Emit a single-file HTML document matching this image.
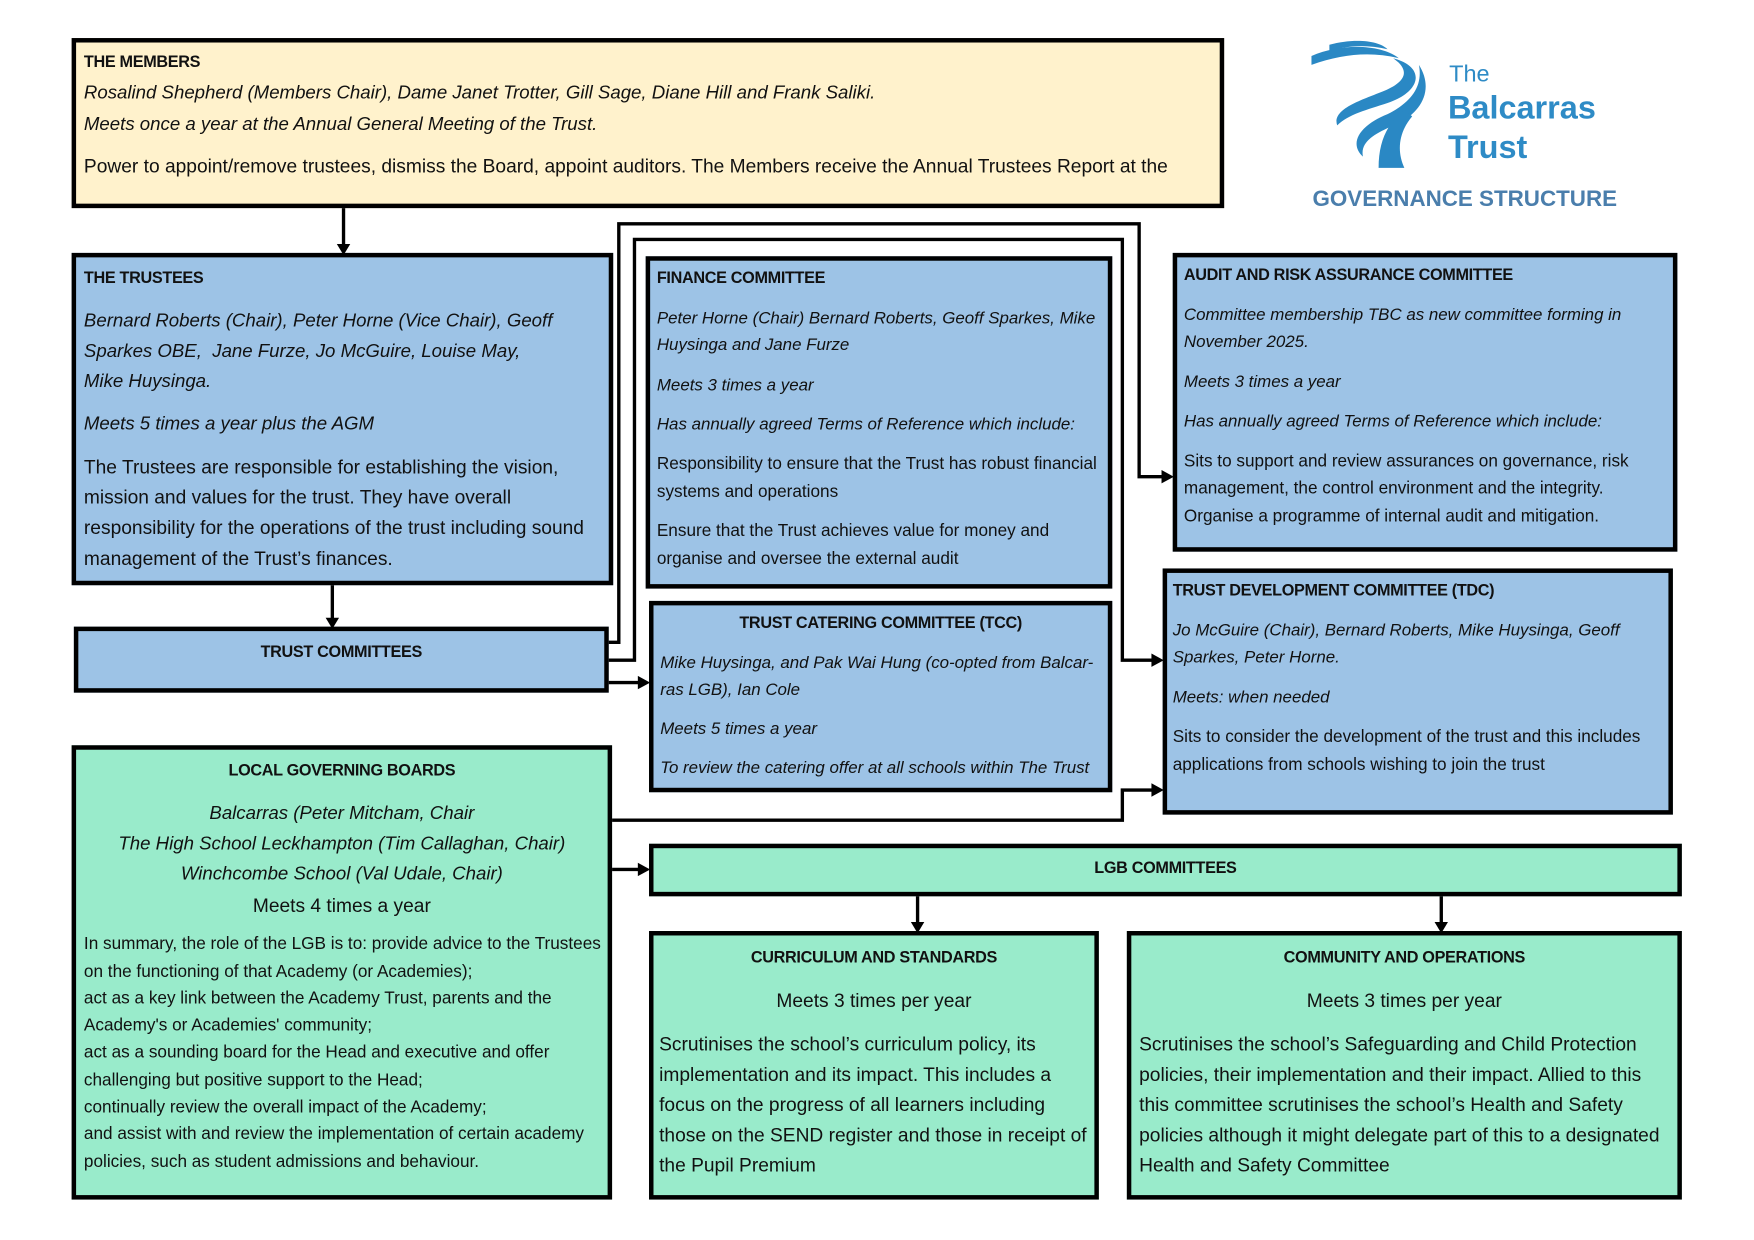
<!DOCTYPE html>
<html><head><meta charset="utf-8"><style>
html,body{margin:0;padding:0;background:#fff;}
body{width:1754px;height:1240px;overflow:hidden;position:relative;}
#w{position:absolute;left:0;top:0;width:1568px;height:1108px;transform:scale(1.1190);transform-origin:0 0;font-family:"Liberation Sans",sans-serif;color:#111;}
.b{position:absolute;box-sizing:border-box;border:4px solid #000;}
.y{background:#fff2cc}.bl{background:#9dc3e6}.g{background:#99ebcb}
.t{position:absolute;white-space:nowrap;line-height:20px;height:20px;margin-top:1px}
.h{font-weight:bold;font-size:14.5px;letter-spacing:-0.3px}
.s{font-size:15.35px;letter-spacing:0}
.s.i{font-size:15.1px}
.m{font-size:17.15px;letter-spacing:0}
.m.i{font-size:16.65px}
.i{font-style:italic}
.c{text-align:center}
svg{position:absolute;left:0;top:0}
</style></head><body><div id="w">

<div class="b y" style="left:64px;top:34px;width:1030px;height:152px"></div>
<div class="b bl" style="left:64px;top:226px;width:484px;height:297px"></div>
<div class="b bl" style="left:66px;top:560px;width:478px;height:59px"></div>
<div class="b bl" style="left:577px;top:229px;width:417px;height:297px"></div>
<div class="b bl" style="left:580px;top:537px;width:414px;height:171px"></div>
<div class="b bl" style="left:1048px;top:226px;width:451px;height:267px"></div>
<div class="b bl" style="left:1039px;top:508px;width:456px;height:220px"></div>
<div class="b g" style="left:64px;top:666px;width:483px;height:406px"></div>
<div class="b g" style="left:580px;top:754px;width:923px;height:47px"></div>
<div class="b g" style="left:580px;top:832px;width:402px;height:240px"></div>
<div class="b g" style="left:1007px;top:832px;width:496px;height:240px"></div>

<svg width="1568" height="1108" viewBox="0 0 1568 1108">
<g fill="none" stroke="#000" stroke-width="3">
<path d="M307 186V220"/>
<path d="M297 523V554"/>
<path d="M544 574H553V200H1018V426H1040"/>
<path d="M544 590H567V214H1003V590H1031"/>
<path d="M544 610H572"/>
<path d="M547 733H1003V706H1031"/>
<path d="M547 777H572"/>
<path d="M820 801V826"/>
<path d="M1288 801V826"/>
</g>
<g fill="#000">
<path d="M301 218H313L307 228Z"/>
<path d="M291 552H303L297 562Z"/>
<path d="M1038 420V432L1049 426Z"/>
<path d="M1029 584V596L1040 590Z"/>
<path d="M570 604V616L581 610Z"/>
<path d="M1029 700V712L1040 706Z"/>
<path d="M570 771V783L581 777Z"/>
<path d="M814 824H826L820 834Z"/>
<path d="M1282 824H1294L1288 834Z"/>
</g>
<g fill="#2a88c4">
<path d="M1172 50C1200 38 1235 40 1250 52C1225 46 1200 48 1172 58Z"/>
<path d="M1188 40C1210 34 1232 36 1240 44C1222 40 1205 40 1188 46Z"/>
<path d="M1245 52C1275 60 1270 82 1240 92C1222 98 1205 102 1195 112C1190 98 1215 90 1235 82C1255 74 1262 64 1245 52Z"/>
<path d="M1268 58C1282 80 1270 100 1250 110C1232 118 1215 125 1218 140C1205 128 1215 112 1240 102C1260 92 1272 78 1268 58Z"/>
<path d="M1255 98C1240 110 1232 126 1232 150H1255C1248 135 1250 118 1262 104Z"/>
</g>
<g fill="#2e8bc6" font-family="Liberation Sans,sans-serif" font-weight="bold">
<text x="1295" y="73" font-size="21" font-weight="normal">The</text>
<text x="1294" y="106" font-size="29">Balcarras</text>
<text x="1294" y="141" font-size="29">Trust</text>
</g>
<text x="1309" y="184" text-anchor="middle" fill="#4a7eac" font-family="Liberation Sans,sans-serif" font-weight="bold" font-size="20">GOVERNANCE STRUCTURE</text>
</svg>

<div class="t h" style="left:75px;top:45px">THE MEMBERS</div>
<div class="t m i" style="left:75px;top:72px">Rosalind Shepherd (Members Chair), Dame Janet Trotter, Gill Sage, Diane Hill and Frank Saliki.</div>
<div class="t m i" style="left:75px;top:100px">Meets once a year at the Annual General Meeting of the Trust.</div>
<div class="t m" style="left:75px;top:137px">Power to appoint/remove trustees, dismiss the Board, appoint auditors. The Members receive the Annual Trustees Report at the</div>

<div class="t h" style="left:75px;top:238px">THE TRUSTEES</div>
<div class="t m i" style="left:75px;top:276px">Bernard Roberts (Chair), Peter Horne (Vice Chair), Geoff</div>
<div class="t m i" style="left:75px;top:303px">Sparkes OBE,&nbsp; Jane Furze, Jo McGuire, Louise May,</div>
<div class="t m i" style="left:75px;top:330px">Mike Huysinga.</div>
<div class="t m i" style="left:75px;top:368px">Meets 5 times a year plus the AGM</div>
<div class="t m" style="left:75px;top:406px">The Trustees are responsible for establishing the vision,</div>
<div class="t m" style="left:75px;top:433px">mission and values for the trust. They have overall</div>
<div class="t m" style="left:75px;top:460px">responsibility for the operations of the trust including sound</div>
<div class="t m" style="left:75px;top:488px">management of the Trust’s finances.</div>

<div class="t h c" style="left:66px;width:478px;top:572px">TRUST COMMITTEES</div>

<div class="t h" style="left:587px;top:238px">FINANCE COMMITTEE</div>
<div class="t s i" style="left:587px;top:274px">Peter Horne (Chair) Bernard Roberts, Geoff Sparkes, Mike</div>
<div class="t s i" style="left:587px;top:298px">Huysinga and Jane Furze</div>
<div class="t s i" style="left:587px;top:334px">Meets 3 times a year</div>
<div class="t s i" style="left:587px;top:369px">Has annually agreed Terms of Reference which include:</div>
<div class="t s" style="left:587px;top:404px">Responsibility to ensure that the Trust has robust financial</div>
<div class="t s" style="left:587px;top:429px">systems and operations</div>
<div class="t s" style="left:587px;top:464px">Ensure that the Trust achieves value for money and</div>
<div class="t s" style="left:587px;top:489px">organise and oversee the external audit</div>

<div class="t h c" style="left:580px;width:414px;top:546px">TRUST CATERING COMMITTEE (TCC)</div>
<div class="t s i" style="left:590px;top:582px">Mike Huysinga, and Pak Wai Hung (co-opted from Balcar-</div>
<div class="t s i" style="left:590px;top:606px">ras LGB), Ian Cole</div>
<div class="t s i" style="left:590px;top:641px">Meets 5 times a year</div>
<div class="t s i" style="left:590px;top:676px">To review the catering offer at all schools within The Trust</div>

<div class="t h" style="left:1058px;top:235px">AUDIT AND RISK ASSURANCE COMMITTEE</div>
<div class="t s i" style="left:1058px;top:271px">Committee membership TBC as new committee forming in</div>
<div class="t s i" style="left:1058px;top:295px">November 2025.</div>
<div class="t s i" style="left:1058px;top:331px">Meets 3 times a year</div>
<div class="t s i" style="left:1058px;top:366px">Has annually agreed Terms of Reference which include:</div>
<div class="t s" style="left:1058px;top:402px">Sits to support and review assurances on governance, risk</div>
<div class="t s" style="left:1058px;top:426px">management, the control environment and the integrity.</div>
<div class="t s" style="left:1058px;top:451px">Organise a programme of internal audit and mitigation.</div>

<div class="t h" style="left:1048px;top:517px">TRUST DEVELOPMENT COMMITTEE (TDC)</div>
<div class="t s i" style="left:1048px;top:553px">Jo McGuire (Chair), Bernard Roberts, Mike Huysinga, Geoff</div>
<div class="t s i" style="left:1048px;top:577px">Sparkes, Peter Horne.</div>
<div class="t s i" style="left:1048px;top:613px">Meets: when needed</div>
<div class="t s" style="left:1048px;top:648px">Sits to consider the development of the trust and this includes</div>
<div class="t s" style="left:1048px;top:673px">applications from schools wishing to join the trust</div>

<div class="t h c" style="left:64px;width:483px;top:678px">LOCAL GOVERNING BOARDS</div>
<div class="t m i c" style="left:64px;width:483px;top:716px">Balcarras (Peter Mitcham, Chair</div>
<div class="t m i c" style="left:64px;width:483px;top:743px">The High School Leckhampton (Tim Callaghan, Chair)</div>
<div class="t m i c" style="left:64px;width:483px;top:770px">Winchcombe School (Val Udale, Chair)</div>
<div class="t m c" style="left:64px;width:483px;top:798px">Meets 4 times a year</div>
<div class="t s" style="left:75px;top:833px">In summary, the role of the LGB is to: provide advice to the Trustees</div>
<div class="t s" style="left:75px;top:858px">on the functioning of that Academy (or Academies);</div>
<div class="t s" style="left:75px;top:882px">act as a key link between the Academy Trust, parents and the</div>
<div class="t s" style="left:75px;top:906px">Academy's or Academies' community;</div>
<div class="t s" style="left:75px;top:930px">act as a sounding board for the Head and executive and offer</div>
<div class="t s" style="left:75px;top:955px">challenging but positive support to the Head;</div>
<div class="t s" style="left:75px;top:979px">continually review the overall impact of the Academy;</div>
<div class="t s" style="left:75px;top:1003px">and assist with and review the implementation of certain academy</div>
<div class="t s" style="left:75px;top:1028px">policies, such as student admissions and behaviour.</div>

<div class="t h c" style="left:580px;width:923px;top:765px">LGB COMMITTEES</div>

<div class="t h c" style="left:580px;width:402px;top:845px">CURRICULUM AND STANDARDS</div>
<div class="t m c" style="left:580px;width:402px;top:883px">Meets 3 times per year</div>
<div class="t m" style="left:589px;top:922px">Scrutinises the school’s curriculum policy, its</div>
<div class="t m" style="left:589px;top:949px">implementation and its impact. This includes a</div>
<div class="t m" style="left:589px;top:976px">focus on the progress of all learners including</div>
<div class="t m" style="left:589px;top:1003px">those on the SEND register and those in receipt of</div>
<div class="t m" style="left:589px;top:1030px">the Pupil Premium</div>

<div class="t h c" style="left:1007px;width:496px;top:845px">COMMUNITY AND OPERATIONS</div>
<div class="t m c" style="left:1007px;width:496px;top:883px">Meets 3 times per year</div>
<div class="t m" style="left:1018px;top:922px">Scrutinises the school’s Safeguarding and Child Protection</div>
<div class="t m" style="left:1018px;top:949px">policies, their implementation and their impact. Allied to this</div>
<div class="t m" style="left:1018px;top:976px">this committee scrutinises the school’s Health and Safety</div>
<div class="t m" style="left:1018px;top:1003px">policies although it might delegate part of this to a designated</div>
<div class="t m" style="left:1018px;top:1030px">Health and Safety Committee</div>

</div></body></html>
